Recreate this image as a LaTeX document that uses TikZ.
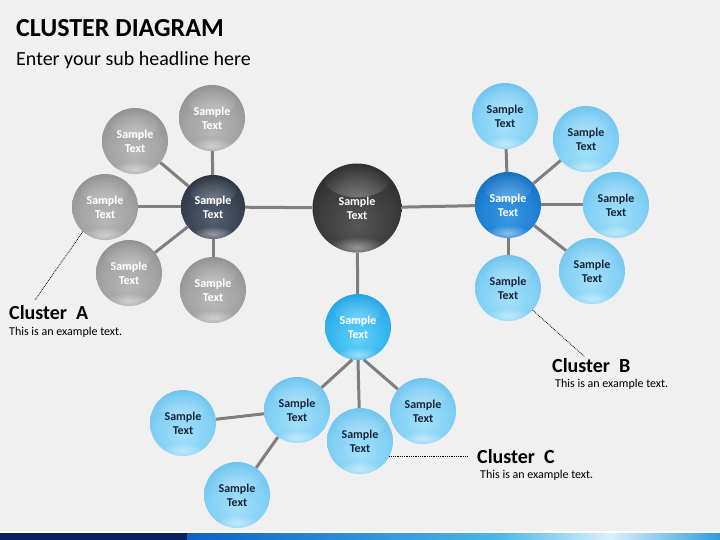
\documentclass[tikz,border=0pt]{standalone}
\usepackage{fontspec}
\setmainfont{Carlito}
\usetikzlibrary{fadings}
\pgfdeclareradialshading{greyball}{\pgfpoint{0bp}{-10bp}}{rgb(0bp)=(0.72,0.72,0.72); rgb(20bp)=(0.64,0.64,0.64); rgb(38bp)=(0.53,0.53,0.53); rgb(50bp)=(0.42,0.42,0.42); rgb(58bp)=(0.38,0.38,0.38); rgb(70bp)=(0.38,0.38,0.38)}
\pgfdeclareradialshading{lblueball}{\pgfpoint{0bp}{-10bp}}{rgb(0bp)=(0.64,0.88,0.98); rgb(20bp)=(0.52,0.82,0.96); rgb(38bp)=(0.38,0.74,0.93); rgb(50bp)=(0.25,0.62,0.87); rgb(58bp)=(0.20,0.55,0.82); rgb(70bp)=(0.20,0.55,0.82)}
\pgfdeclareradialshading{chubball}{\pgfpoint{0bp}{-10bp}}{rgb(0bp)=(0.38,0.82,0.98); rgb(20bp)=(0.22,0.72,0.94); rgb(38bp)=(0.10,0.60,0.88); rgb(50bp)=(0.04,0.48,0.78); rgb(58bp)=(0.03,0.42,0.72); rgb(70bp)=(0.03,0.42,0.72)}
\pgfdeclareradialshading{bhubball}{\pgfpoint{0bp}{-10bp}}{rgb(0bp)=(0.22,0.60,0.90); rgb(20bp)=(0.13,0.51,0.83); rgb(38bp)=(0.06,0.40,0.72); rgb(50bp)=(0.03,0.30,0.60); rgb(58bp)=(0.02,0.25,0.52); rgb(70bp)=(0.02,0.25,0.52)}
\pgfdeclareradialshading{ahubball}{\pgfpoint{0bp}{-10bp}}{rgb(0bp)=(0.32,0.37,0.44); rgb(20bp)=(0.23,0.27,0.33); rgb(38bp)=(0.14,0.17,0.22); rgb(50bp)=(0.09,0.11,0.15); rgb(58bp)=(0.07,0.09,0.12); rgb(70bp)=(0.07,0.09,0.12)}
\pgfdeclareradialshading{mainball}{\pgfpoint{0bp}{-10bp}}{rgb(0bp)=(0.34,0.34,0.34); rgb(20bp)=(0.24,0.24,0.24); rgb(38bp)=(0.13,0.13,0.13); rgb(50bp)=(0.07,0.07,0.07); rgb(58bp)=(0.04,0.04,0.04); rgb(70bp)=(0.04,0.04,0.04)}
\tikzfading[name=softspot, inner color=transparent!0, outer color=transparent!100]
\definecolor{bgcol}{HTML}{F0F0F0}
\definecolor{linecol}{HTML}{7F7F7F}
\definecolor{navytext}{HTML}{14243A}
\definecolor{barnavy}{HTML}{0C2160}
\begin{document}
\begin{tikzpicture}[x=1pt,y=-1pt,
  ball/.style={circle, draw=none, minimum size=66pt, inner sep=0pt, align=center,
    font=\bfseries\fontsize{12}{14}\selectfont, shade,
    path picture={
      \fill[white, path fading=softspot, fill opacity=0.35] ([yshift=-16pt]path picture bounding box.north) ellipse [x radius=0.36*\pgfkeysvalueof{/pgf/minimum width}, y radius=0.2*\pgfkeysvalueof{/pgf/minimum width}];
      \fill[white, path fading=softspot, fill opacity=0.45] ([yshift=5pt]path picture bounding box.south) ellipse [x radius=0.34*\pgfkeysvalueof{/pgf/minimum width}, y radius=0.12*\pgfkeysvalueof{/pgf/minimum width}];
    }},
  greyb/.style={ball, shading=greyball, text=white},
  lblueb/.style={ball, shading=lblueball, text=navytext},
  chub/.style={ball, shading=chubball, text=white},
  bhub/.style={ball, shading=bhubball, text=white},
  ahub/.style={ball, shading=ahubball, text=white, minimum size=64pt},
  mainb/.style={ball, shading=mainball, text=white, minimum size=89pt},
  conn/.style={draw=linecol, line width=3pt},
  dots/.style={draw=black, densely dotted, line width=0.8pt},
  clhead/.style={anchor=base west, inner sep=0pt, font=\bfseries\fontsize{20}{22}\selectfont},
  clsub/.style={anchor=base west, inner sep=0pt, font=\fontsize{12}{14}\selectfont}
]
\fill[bgcol] (0,0) rectangle (720,540);
\useasboundingbox (0,0) rectangle (720,540);

% title
\node[anchor=base west, inner sep=0pt, font=\bfseries\fontsize{26}{28}\selectfont] (title) at (16,37) {CLUSTER DIAGRAM};
\node[anchor=base west, inner sep=0pt, font=\fontsize{20}{22}\selectfont] (sub) at (16,66) {Enter your sub headline here};

% bottom bar
\fill[white] (0,530.5) rectangle (720,533);
\fill[barnavy] (0,533) rectangle (187,540);
\shade[left color={rgb,255:red,16;green,96;blue,196}, right color={rgb,255:red,74;green,184;blue,232}] (187,533) rectangle (500,540);
\shade[left color={rgb,255:red,74;green,184;blue,232}, right color={rgb,255:red,220;green,240;blue,250}] (500,533) rectangle (610,540);
\shade[left color={rgb,255:red,220;green,240;blue,250}, right color={rgb,255:red,50;green,155;blue,220}] (610,533) rectangle (720,540);

% nodes
\node[mainb] (m) at (357,208) {Sample\\Text};
\node[ahub] (a0) at (213,207) {Sample\\Text};
\node[greyb] (a1) at (212,118) {Sample\\Text};
\node[greyb] (a2) at (135,141) {Sample\\Text};
\node[greyb] (a3) at (105,207) {Sample\\Text};
\node[greyb] (a4) at (129,273) {Sample\\Text};
\node[greyb] (a5) at (213,290) {Sample\\Text};

\node[bhub] (b0) at (508,205) {Sample\\Text};
\node[lblueb] (b1) at (505,116) {Sample\\Text};
\node[lblueb] (b2) at (586,139) {Sample\\Text};
\node[lblueb] (b3) at (616,205) {Sample\\Text};
\node[lblueb] (b4) at (592,271) {Sample\\Text};
\node[lblueb] (b5) at (508,288) {Sample\\Text};

\node[chub] (c0) at (358,327) {Sample\\Text};
\node[lblueb] (c1) at (297,410) {Sample\\Text};
\node[lblueb] (c2) at (360,441) {Sample\\Text};
\node[lblueb] (c3) at (423,411) {Sample\\Text};
\node[lblueb] (c4) at (183,423) {Sample\\Text};
\node[lblueb] (c5) at (237,495) {Sample\\Text};

% connectors
\draw[conn] (m) -- (a0);
\draw[conn] (m) -- (b0);
\draw[conn] (m) -- (c0);
\foreach \i in {1,...,5} {\draw[conn] (a0) -- (a\i);}
\foreach \i in {1,...,5} {\draw[conn] (b0) -- (b\i);}
\draw[conn] (c0.-100) -- (c1);
\draw[conn] (c0.-90) -- (c2);
\draw[conn] (c0.-80) -- (c3);
\draw[conn] (c1) -- (c4);
\draw[conn] (c1) -- (c5);

% cluster labels
\coordinate (dA) at (35,300);
\draw[dots] (a3.228) -- (dA);
\node[clhead] (clA) at (9,319) {Cluster~~A};
\node[clsub] (clAs) at (9,335) {This is an example text.};

\coordinate (dB) at (585,357);
\draw[dots] (b5.318) -- (dB);
\node[clhead] (clB) at (552,372) {Cluster~~B};
\node[clsub] (clBs) at (555,387) {This is an example text.};

\coordinate (dC) at (468,457);
\draw[dots] (c2.332) -- (c2.332 -| dC);
\node[clhead] (clC) at (477,463) {Cluster~~C};
\node[clsub] (clCs) at (480,478) {This is an example text.};
\end{tikzpicture}
\end{document}
